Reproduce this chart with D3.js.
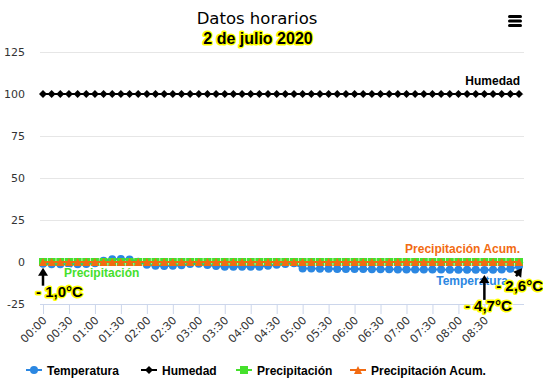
<!DOCTYPE html>
<html><head><meta charset="utf-8">
<script src="https://cdn.jsdelivr.net/npm/d3@7"></script>
<style>body{margin:0;background:#fff}svg{display:block}</style>
</head><body><svg id="c" width="543" height="390"></svg>
<script>
// ---- data ----
const startMinutes = 0;          // 00:00
const stepMinutes = 10;          // one reading every 10 min
const temperatura = [-1.0,-1.3,-1.4,-1.4,-1.3,-1.2,-0.8,0.8,1.6,1.8,1.5,0.2,-1.6,-2.2,-2.4,-2.2,-2.0,-1.2,-1.0,-1.8,-2.4,-2.8,-2.9,-2.8,-2.9,-2.8,-2.3,-1.6,-1.2,-0.8,-3.8,-3.9,-4.0,-4.0,-4.1,-4.1,-4.2,-4.2,-4.3,-4.3,-4.3,-4.4,-4.4,-4.4,-4.5,-4.5,-4.5,-4.6,-4.6,-4.6,-4.6,-4.7,-4.6,-4.4,-4.0,-2.6];
const humedad = temperatura.map(() => 100);
const precipitacion = temperatura.map(() => 0);
const precipAcum = temperatura.map(() => 0);
const xTickLabels = ["00:00","00:30","01:00","01:30","02:00","02:30","03:00","03:30","04:00","04:30","05:00","05:30","06:00","06:30","07:00","07:30","08:00","08:30"];
const yTicks = [-25,0,25,50,75,100,125];
const annotations = [{i:0,text:"- 1,0°C"},{i:51,text:"- 4,7°C"},{i:55,text:"- 2,6°C"}];
const seriesNames = ["Temperatura","Humedad","Precipitación","Precipitación Acum."];

// ---- layout ----
const svg = d3.select("#c");
const plotL = 40, plotR = 524, plotT = 52, plotB = 304;
const x = d3.scaleLinear().domain([0, 550]).range([43, 519]);
const y = d3.scaleLinear().domain([-25, 125]).range([plotB, plotT]);
const tMin = i => startMinutes + i*stepMinutes;

// grid
svg.append("g").selectAll("line").data(yTicks.filter(v=>v>-25)).join("line")
  .attr("x1",plotL).attr("x2",plotR).attr("y1",d=>y(d)).attr("y2",d=>y(d))
  .attr("stroke","#e6e6e6").attr("stroke-width",1).attr("shape-rendering","crispEdges");

// y labels
svg.append("g").selectAll("text").data(yTicks).join("text")
  .attr("x",25).attr("y",d=>y(d)+4).attr("text-anchor","end")
  .attr("font-family","DejaVu Sans").attr("font-size",11).attr("fill","#333").text(d=>d);

// x axis
const xAxis = d3.axisBottom(x).tickValues(xTickLabels.map((_,k)=>k*30))
  .tickFormat((d,k)=>xTickLabels[k]).tickSize(10).tickSizeOuter(0);
const gx = svg.append("g").attr("transform",`translate(0,${plotB})`).call(xAxis);
gx.select(".domain").attr("d",`M${plotL},0.5H${plotR}`).attr("stroke","#ccd6eb");
gx.selectAll(".tick line").attr("stroke","#ccd6eb");
gx.selectAll(".tick text").attr("font-family","DejaVu Sans").attr("font-size",11).attr("fill","#333")
  .attr("text-anchor","end").attr("dy",0).attr("y",0)
  .attr("transform","translate(4,17) rotate(-45)");

// series
const lineGen = arr => d3.line().x((d,i)=>x(tMin(i))).y(d=>y(d))(arr);
const cT="#2b87e2", cH="#000000", cP="#45e02c", cA="#f26b12";
function series(arr,color,shape){
  const g = svg.append("g");
  g.append("path").attr("d",lineGen(arr)).attr("fill","none").attr("stroke",color).attr("stroke-width",2);
  g.selectAll("path.m").data(arr).join("path").attr("class","m")
    .attr("transform",(d,i)=>`translate(${x(tMin(i))},${y(d)})`)
    .attr("d",shape).attr("fill",color);
}
const circ = "M-4,0A4,4 0 1,0 4,0A4,4 0 1,0 -4,0Z";
const diam = "M0,-4L4,0L0,4L-4,0Z";
const sq = "M-4,-4H4V4H-4Z";
const tri = "M0,-4L4,4H-4Z";
series(temperatura,cT,circ);
series(humedad,cH,diam);
series(precipitacion,cP,sq);
series(precipAcum,cA,tri);

// data labels
function dlabel(txt,xx,yy,color,anchor){
  svg.append("text").attr("x",xx).attr("y",yy).attr("text-anchor",anchor||"start")
   .attr("font-family","Liberation Sans").attr("font-weight","bold").attr("font-size",12)
   .attr("fill",color).attr("stroke","#fff").attr("stroke-width",2).attr("paint-order","stroke").text(txt);
}
const last = temperatura.length-1;
dlabel(seriesNames[1], x(tMin(last))+1, y(humedad[last])-9, "#000","end");
dlabel(seriesNames[3], x(tMin(last))+1, y(precipAcum[last])-9, cA,"end");
dlabel(seriesNames[2], x(tMin(0))+21, y(precipitacion[0])+15, cP,"start");
dlabel(seriesNames[0], x(tMin(last))-11, y(temperatura[last])+19, cT,"end");

// annotations: arrow start offset (sx,sy), arrow tip offset (ex,ey), text position
const arrowDefs = [
  {sx:0,sy:22,ex:0,ey:4,tx:-7,ty:33,anchor:"start"},
  {sx:0,sy:30,ex:0,ey:5,tx:4,ty:41,anchor:"middle"},
  {sx:-3,sy:10,ex:3,ey:2,tx:24,ty:25,anchor:"end"}];
annotations.forEach((a,k)=>{
  const px = x(tMin(a.i)), py = y(temperatura[a.i]);
  const o = arrowDefs[k];
  const sx = px+o.sx, sy = py+o.sy, ex = px+o.ex, ey = py+o.ey;
  const ang = Math.atan2(ey-sy, ex-sx);
  const h = 8, w = 5;
  svg.append("line").attr("x1",sx).attr("y1",sy).attr("x2",ex-Math.cos(ang)*4).attr("y2",ey-Math.sin(ang)*4)
    .attr("stroke","#000").attr("stroke-width",2.5);
  const bx = ex-Math.cos(ang)*h, by = ey-Math.sin(ang)*h;
  svg.append("path").attr("d",`M${ex},${ey}L${bx+Math.sin(ang)*w},${by-Math.cos(ang)*w}L${bx-Math.sin(ang)*w},${by+Math.cos(ang)*w}Z`).attr("fill","#000");
  svg.append("text").attr("x",px+o.tx).attr("y",py+o.ty).attr("text-anchor",o.anchor)
    .attr("font-family","Liberation Sans").attr("font-weight","bold").attr("font-size",15)
    .attr("fill","#000").attr("stroke","#ffff00").attr("stroke-width",3).attr("stroke-linejoin","round")
    .attr("paint-order","stroke").text(a.text);
});

// titles
svg.append("text").attr("x",257).attr("y",24).attr("text-anchor","middle")
  .attr("font-family","DejaVu Sans").attr("font-size",16.5).attr("fill","#000").text("Datos horarios");
svg.append("text").attr("x",258).attr("y",44).attr("text-anchor","middle")
  .attr("font-family","Liberation Sans").attr("font-weight","bold").attr("font-size",16)
  .attr("fill","#000").attr("stroke","#ffff00").attr("stroke-width",3).attr("stroke-linejoin","round")
  .attr("paint-order","stroke").text("2 de julio 2020");

// menu icon
[0,1,2].forEach(k=>svg.append("rect").attr("x",508).attr("y",15+k*4.5).attr("width",14).attr("height",3).attr("rx",1.5).attr("fill","#000"));

// legend
const legX = [26,141,236,350];
const shapes=[circ,diam,sq,tri], cols=[cT,cH,cP,cA];
seriesNames.forEach((n,k)=>{
  const g = svg.append("g").attr("transform",`translate(${legX[k]},370)`);
  g.append("line").attr("x1",0).attr("x2",16).attr("stroke",cols[k]).attr("stroke-width",2);
  g.append("path").attr("transform","translate(8,0)").attr("d",shapes[k]).attr("fill",cols[k]);
  g.append("text").attr("x",21).attr("y",4.5).attr("font-family","Liberation Sans").attr("font-weight","bold")
    .attr("font-size",12).attr("fill","#000").text(n);
});
</script></body></html>
